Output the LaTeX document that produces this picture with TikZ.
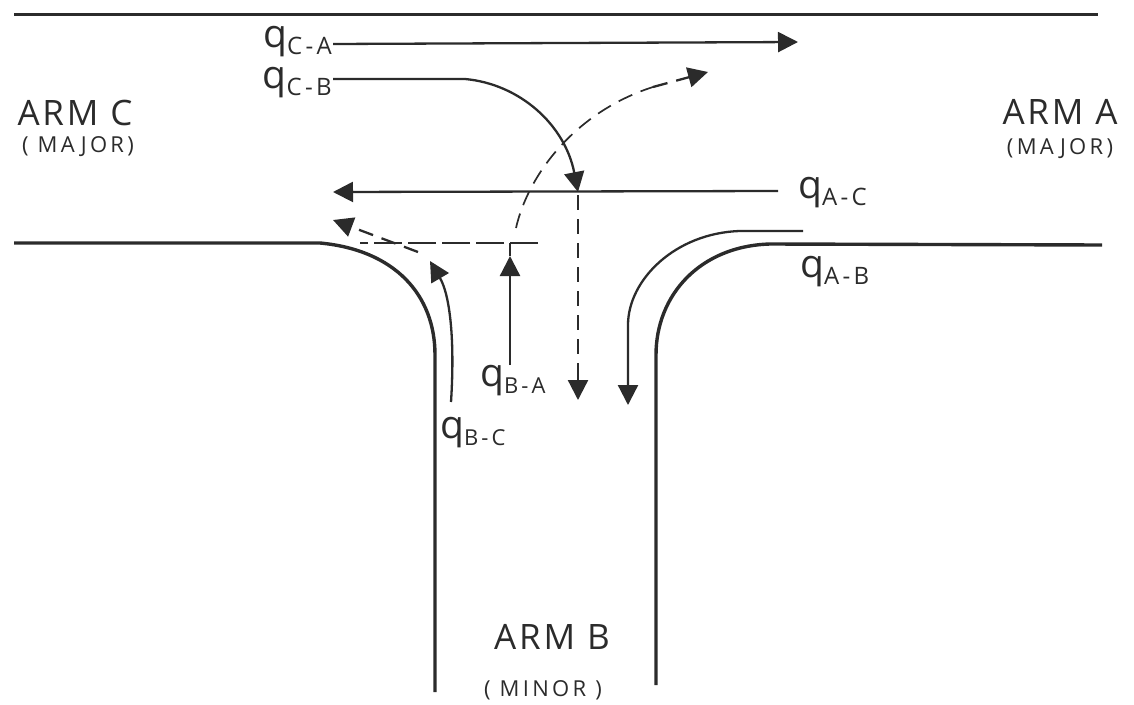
\documentclass[tikz,border=0pt]{standalone}
\usepackage{fontspec}
\setmainfont{Open Sans}
\newfontfamily\spacedfont[LetterSpace=15]{Open Sans}
\newfontfamily\subfont[LetterSpace=14]{Open Sans}
\newfontfamily\armfont[LetterSpace=8]{Open Sans}
\usetikzlibrary{arrows.meta}
\definecolor{ink}{gray}{0.17}
\tikzset{
  road/.style={draw=ink,line width=3.4pt},
  bighead/.tip={Triangle[length=20pt,width=20pt]},
  flow/.style={draw=ink,line width=2.3pt,-bighead},
  flowplain/.style={draw=ink,line width=1.7pt},
  flowdash/.style={draw=ink,line width=2.3pt,dash pattern=on 15pt off 9pt},
  armlabel/.style={text=ink,font=\armfont\fontsize{35}{38}\selectfont,inner sep=0pt},
  subarm/.style={text=ink,font=\spacedfont\fontsize{22}{25}\selectfont,inner sep=0pt},
  qlabel/.style={text=ink,font=\fontsize{39}{42}\selectfont,inner sep=0pt},
}
\newcommand{\ql}[1]{q{\subfont\fontsize{24}{26}\selectfont\raisebox{-7pt}{#1}}}
\newcommand{\qs}[1]{q{\subfont\fontsize{22}{24}\selectfont\raisebox{-7pt}{#1}}}
\begin{document}
\begin{tikzpicture}[x=1pt,y=-1pt]
\useasboundingbox (0,0) rectangle (1134,704);
% labels
\node[armlabel] (armc) at (75,113) {ARM C};
\node[subarm] (majc) at (78,147) {( MAJOR)};
\node[armlabel] (arma) at (1060,112) {ARM A};
\node[subarm] (maja) at (1060,149) {(MAJOR)};
\node[armlabel] (armb) at (552,637) {ARM B};
\node[subarm] (minb) at (543,690) {( MINOR )};
\node[qlabel,anchor=east] (qca) at (332,42) {\ql{C-A}};
\node[qlabel,anchor=east] (qcb) at (332,83) {\ql{C-B}};
\node[qlabel,anchor=west] (qac) at (798,193) {\ql{A-C}};
\node[qlabel,anchor=west] (qab) at (800,272) {\ql{A-B}};
\node[qlabel,anchor=west] (qba) at (480,381) {\qs{B-A}};
\node[qlabel,anchor=west] (qbc) at (440,433) {\qs{B-C}};
% free ends
\coordinate (ta) at (798,42);
\coordinate (bm) at (578,192);
\coordinate (bmd) at (578,400);
\coordinate (tac) at (333,192);
\coordinate (tab) at (628,405);
\coordinate (tba) at (510,256);
\coordinate (bax) at (510,243);
\coordinate (bay) at (516,228);
\coordinate (tbd) at (708,72);
\coordinate (tbc) at (430,261);
\coordinate (tcd) at (333,220);
% roads
\draw[road,line width=3pt] (14,14) -- (1098,14);
\draw[road] (14,243) -- (320,243) .. controls (395,250) and (435,295) .. (435,355) -- (435,692);
\draw[road] (1102,245) -- (770,244) .. controls (700,246) and (656,295) .. (656,355) -- (656,685);
% q C-A
\draw[flow] (333,44) -- (ta);
% q C-B
\draw[flow] (333,79) -- (465,79) .. controls (520,84) and (565,125) .. (bm);
\draw[flowdash] (578,195) -- (578,384);
\draw[flow] (578,372) -- (bmd);
% q A-C
\draw[flow] (778,191) -- (tac);
% q A-B
\draw[flow] (803,231) -- (740,231) .. controls (675,233) and (628,280) .. (628,325) -- (tab);
% q B-A
\draw[flow] (510,365) -- (tba);
\draw[flowplain,line width=1.4pt] (tba) -- (bax);
\draw[flowdash,line width=1.7pt] (bay) .. controls (528,175) and (575,112) .. (653,87);
\draw[flowdash,-bighead] (653,87) -- (tbd);
% q B-C
\draw[flow] (451,402) .. controls (455,340) and (450,295) .. (tbc);
% give-way line and turning dash
\draw[flowplain,line width=1.5pt,dash pattern=on 28pt off 6pt] (538,243) -- (360,243);
\draw[flowdash,-bighead] (418,252) -- (tcd);
\end{tikzpicture}
\end{document}
